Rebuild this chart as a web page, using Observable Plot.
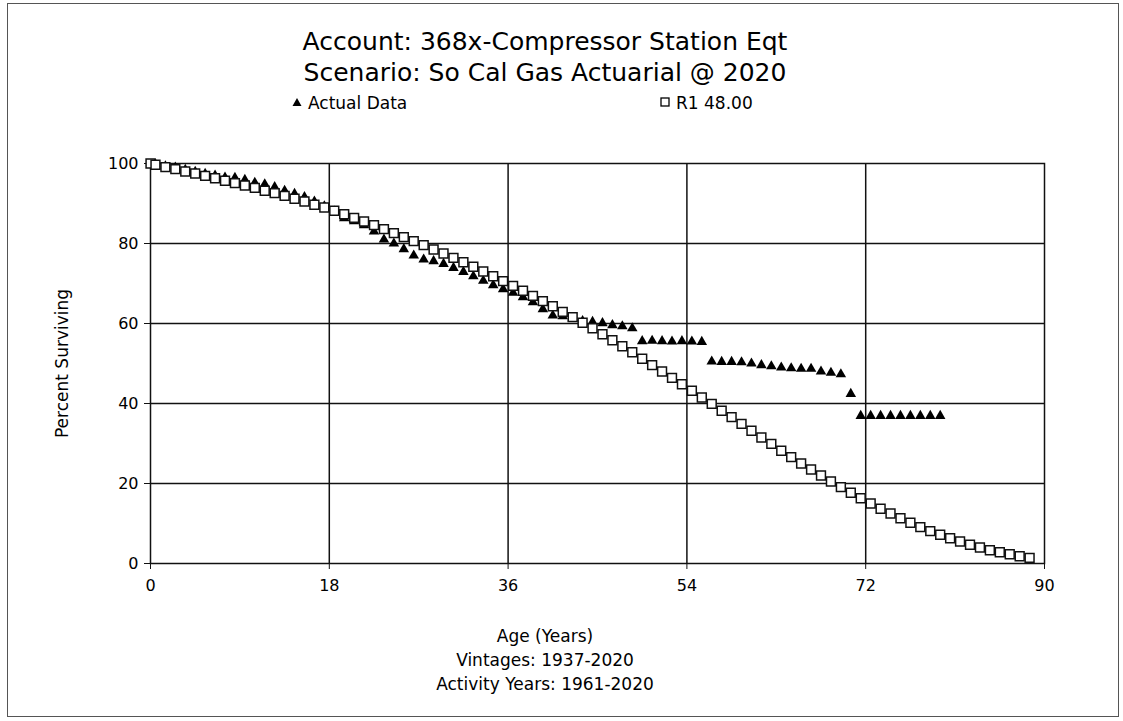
<!DOCTYPE html>
<html><head><meta charset="utf-8">
<script src="https://cdn.jsdelivr.net/npm/d3@7"></script>
<script src="https://cdn.jsdelivr.net/npm/@observablehq/plot@0.6"></script>
<style>
body{margin:0;background:#fff;font-family:"DejaVu Sans",sans-serif;color:#000}
#page{position:relative;width:1123px;height:721px;overflow:hidden;background:#fff}
#border{position:absolute;left:7px;top:3px;width:1110px;height:712px;border:1px solid #555}
.t{position:absolute;left:0;width:1090px;text-align:center;white-space:nowrap}
.title{font-size:25px;line-height:30px}
.cap{font-size:17px;line-height:22px}
.leg{position:absolute;font-size:17px;line-height:20px;white-space:nowrap;top:93px}
.leg svg{vertical-align:middle;margin-right:6px;position:relative;top:-2px}
#chart{position:absolute;left:0;top:140px}
</style>
</head><body>
<div id="page">
  <div id="border"></div>
  <div class="t title" style="top:27px">Account: 368x-Compressor Station Eqt</div>
  <div class="t title" style="top:58px">Scenario: So Cal Gas Actuarial @ 2020</div>
  <div class="leg" style="left:292px"><svg width="10" height="10"><path d="M5,1 L9.5,9 L0.5,9 Z" fill="#000"/></svg>Actual Data</div>
  <div class="leg" style="left:660px"><svg width="10" height="10"><rect x="1" y="1" width="8" height="8" fill="#fff" stroke="#000" stroke-width="1.3"/></svg>R1 48.00</div>
  <div id="chart"></div>
  <div class="t cap" style="top:625px">Age (Years)</div>
  <div class="t cap" style="top:649px">Vintages: 1937-2020</div>
  <div class="t cap" style="top:673px">Activity Years: 1961-2020</div>
</div>
<script>
// X and Y tick labels
const xTicks = [0, 18, 36, 54, 72, 90];
const yTicks = [0, 20, 40, 60, 80, 100];
const yLabel = "Percent Surviving";

// R1 48.00 fitted curve (squares)
const r1Ages = [0,0.5,1.5,2.5,3.5,4.5,5.5,6.5,7.5,8.5,9.5,10.5,11.5,12.5,13.5,14.5,15.5,16.5,17.5,18.5,19.5,
  20.5,21.5,22.5,23.5,24.5,25.5,26.5,27.5,28.5,29.5,30.5,31.5,32.5,33.5,34.5,35.5,36.5,37.5,38.5,39.5,
  40.5,41.5,42.5,43.5,44.5,45.5,46.5,47.5,48.5,49.5,50.5,51.5,52.5,53.5,54.5,55.5,56.5,57.5,58.5,59.5,
  60.5,61.5,62.5,63.5,64.5,65.5,66.5,67.5,68.5,69.5,70.5,71.5,72.5,73.5,74.5,75.5,76.5,77.5,78.5,79.5,
  80.5,81.5,82.5,83.5,84.5,85.5,86.5,87.5,88.5];
const r1Pct = [100,99.7,99.1,98.6,98.0,97.5,96.9,96.3,95.7,95.1,94.5,93.9,93.2,92.6,91.9,91.2,90.5,89.7,89.0,88.2,87.3,
  86.4,85.5,84.6,83.6,82.6,81.6,80.6,79.6,78.5,77.5,76.4,75.3,74.2,73.0,71.8,70.6,69.4,68.2,66.9,65.6,
  64.3,62.9,61.6,60.2,58.8,57.3,55.8,54.3,52.8,51.2,49.6,48.0,46.4,44.8,43.2,41.5,39.9,38.2,36.6,34.9,
  33.2,31.5,29.9,28.2,26.6,25.0,23.5,22.0,20.5,19.1,17.7,16.3,15.0,13.7,12.5,11.3,10.2,9.1,8.1,7.2,
  6.3,5.5,4.7,4.0,3.3,2.8,2.3,1.8,1.4];

// Actual data (triangles)
const actAges = [0.5,1.5,2.5,3.5,4.5,5.5,6.5,7.5,8.5,9.5,10.5,11.5,12.5,13.5,14.5,15.5,16.5,17.5,18.5,19.5,
  20.5,21.5,22.5,23.5,24.5,25.5,26.5,27.5,28.5,29.5,30.5,31.5,32.5,33.5,34.5,35.5,36.5,37.5,38.5,39.5,
  40.5,41.5,42.5,43.5,44.5,45.5,46.5,47.5,48.5,49.5,50.5,51.5,52.5,53.5,54.5,55.5,56.5,57.5,58.5,59.5,
  60.5,61.5,62.5,63.5,64.5,65.5,66.5,67.5,68.5,69.5,70.5,71.5,72.5,73.5,74.5,75.5,76.5,77.5,78.5,79.5];
const actPct = [99.8,99.3,99.0,98.4,97.9,97.4,97.0,96.5,96.4,95.9,95.2,94.8,94.1,93.2,92.4,91.6,90.5,89.3,88.0,86.3,
  85.6,84.6,83.0,81.0,80.0,78.6,77.0,76.0,75.6,74.9,73.9,72.9,71.8,70.7,69.6,68.6,67.7,66.6,65.3,63.6,
  62.0,61.8,61.3,60.6,60.4,60.1,59.6,59.3,58.8,55.6,55.7,55.6,55.5,55.6,55.5,55.4,50.5,50.4,50.4,50.3,
  50.0,49.6,49.3,49.0,48.8,48.7,48.7,48.0,47.7,47.3,42.4,36.9,36.9,36.9,36.9,36.9,36.9,36.9,36.9,36.9];

const r1 = r1Ages.map((a, i) => ({age: a, pct: r1Pct[i]}));
const actual = actAges.map((a, i) => ({age: a, pct: actPct[i]}));

const chart = Plot.plot({
  width: 1123, height: 470,
  marginLeft: 150, marginRight: 79, marginTop: 23, marginBottom: 47,
  style: {fontFamily: "DejaVu Sans", fontSize: "16px", color: "#000", background: "transparent", overflow: "visible"},
  x: {domain: [0, 90]},
  y: {domain: [0, 100]},
  marks: [
    Plot.ruleX(xTicks.slice(1, -1), {stroke: "#111", strokeWidth: 1.5}),
    Plot.ruleY(yTicks.slice(1, -1), {stroke: "#111", strokeWidth: 1.5}),
    Plot.frame({stroke: "#111", strokeWidth: 1.5}),
    Plot.axisX({ticks: xTicks, tickSize: 6, tickPadding: 10, label: null, stroke: "#111"}),
    Plot.axisY({ticks: yTicks, tickSize: 6, tickPadding: 6, label: null, stroke: "#111"}),
    Plot.text([yLabel], {text: d => d, frameAnchor: "left", textAnchor: "middle", dx: -88, rotate: -90, fontSize: 17, fill: "#000"}),
    Plot.dot(actual, {x: "age", y: "pct", symbol: "triangle", fill: "#000", r: 3.9}),
    Plot.dot(r1, {x: "age", y: "pct", symbol: "square", fill: "#fff", stroke: "#111", strokeWidth: 1.5, r: 5})
  ]
});
document.getElementById("chart").appendChild(chart);
</script>
</body></html>
